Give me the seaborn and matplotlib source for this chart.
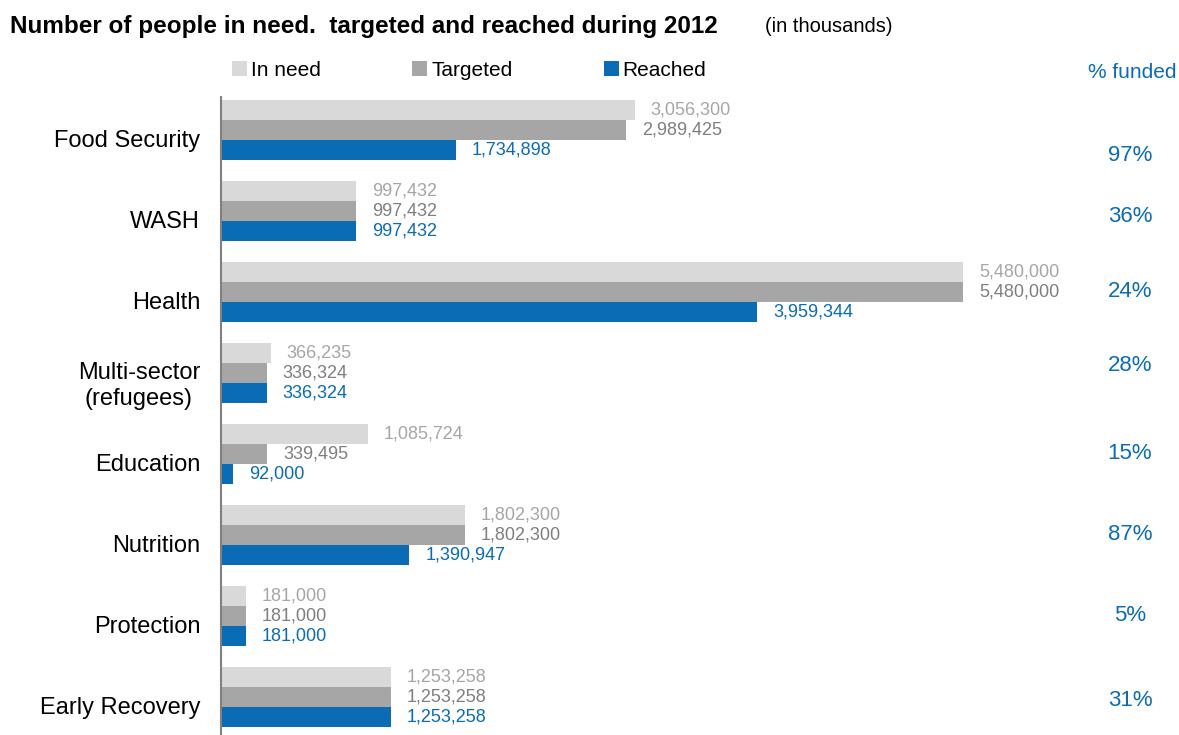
import pandas as pd
import matplotlib.pyplot as plt
import seaborn as sns
from matplotlib.transforms import blended_transform_factory, ScaledTranslation

# Data (values as printed on the chart)
sectors = ["Food Security", "WASH", "Health", "Multi-sector\n(refugees)",
           "Education", "Nutrition", "Protection", "Early Recovery"]
in_need = [3056300, 997432, 5480000, 366235, 1085724, 1802300, 181000, 1253258]
targeted = [2989425, 997432, 5480000, 336324, 339495, 1802300, 181000, 1253258]
reached = [1734898, 997432, 3959344, 336324, 92000, 1390947, 181000, 1253258]
pct_funded = ["97%", "36%", "24%", "28%", "15%", "87%", "5%", "31%"]
series = ["In need", "Targeted", "Reached"]

bar_colors = ["#D9D9D9", "#A6A6A6", "#0A6CB4"]
label_colors = ["#A6A6A6", "#7F7F7F", "#0A6CB4"]
blue = "#0A6CB4"

df = pd.DataFrame({
    "sector": sectors * 3,
    "value": in_need + targeted + reached,
    "series": [s for s in series for _ in sectors],
})

sns.set_style("white")
plt.rcParams["font.family"] = ["Liberation Sans", "DejaVu Sans"]
plt.rcParams["text.color"] = "black"

fig = plt.figure(figsize=(11.79, 7.35), dpi=100)
ax = fig.add_axes([221 / 1179, 0, 1 - 221 / 1179, 1 - 89.5 / 735])

sns.barplot(data=df, y="sector", x="value", hue="series", orient="h",
            order=sectors, hue_order=series, palette=bar_colors,
            width=0.74, saturation=1, linewidth=0, ax=ax)

ax.set_xlim(0, 7075000)
ax.set_ylim(7.47, -0.5)
ax.set_xlabel("")
ax.set_ylabel("")
ax.set_xticks([])

# value labels
for cont, col in zip(ax.containers, label_colors):
    ax.bar_label(cont, fmt="{:,.0f}", padding=11.5, color=col, fontsize=13)

for side in ["top", "right", "bottom"]:
    ax.spines[side].set_visible(False)
ax.spines["left"].set_color("#808080")
ax.spines["left"].set_linewidth(1.5)
ax.spines["left"].set_bounds(7.47, -0.41)

# category labels sit a little below the bar group centre
ax.tick_params(axis="y", length=0, pad=15, labelsize=17, labelcolor="black")
shift = ScaledTranslation(0, -0.09, fig.dpi_scale_trans)
for lbl in ax.get_yticklabels():
    lbl.set_multialignment("center")
    lbl.set_transform(lbl.get_transform() + shift)

# legend
handles, labels = ax.get_legend_handles_labels()
leg = ax.legend(handles, labels, ncol=3, loc="center left",
                bbox_to_anchor=(232 / 1179, 1 - 70 / 735), bbox_transform=fig.transFigure,
                frameon=False, fontsize=15, handlelength=0.7, handleheight=0.7,
                handletextpad=0.2, columnspacing=4.4, borderpad=0, borderaxespad=0)
for t in leg.get_texts():
    t.set_color("black")

# % funded column
fig.text(1177 / 1179, 1 - 72 / 735, "% funded", color=blue, fontsize=15,
         ha="right", va="center")
trans = blended_transform_factory(fig.transFigure, ax.transData)
nudge = [-0.26, -0.06, 0, 0.07, 0, 0, 0, -0.04]  # inches, as placed in the original
for i, p in enumerate(pct_funded):
    t = ax.text(1130 / 1179, i, p, transform=trans, color=blue, fontsize=16,
                ha="center", va="center")
    t.set_transform(trans + ScaledTranslation(0, nudge[i], fig.dpi_scale_trans))

# title
fig.text(10 / 1179, 1 - 27 / 735, "Number of people in need.  targeted and reached during 2012",
         fontsize=17.5, fontweight="bold", ha="left", va="center")
fig.text(765 / 1179, 1 - 27 / 735, "(in thousands)", fontsize=14.5,
         ha="left", va="center")

fig.savefig("out.png", dpi=100)
